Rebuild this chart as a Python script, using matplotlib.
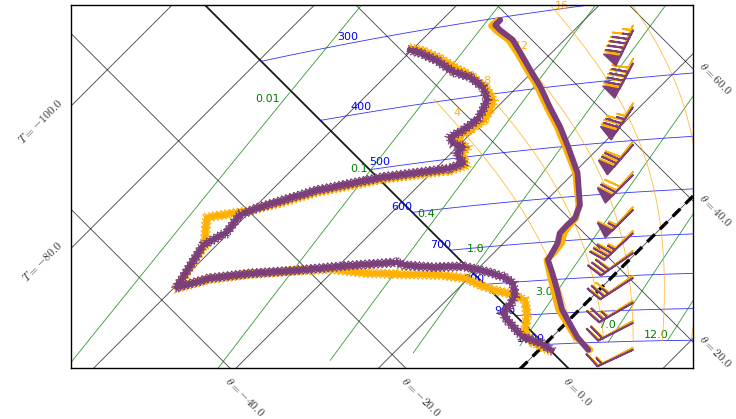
import numpy as np
import matplotlib
matplotlib.use("Agg")
import matplotlib.pyplot as plt
import matplotlib.patheffects as pe

KELVIN = 273.15
KAPPA = 0.286
ENTROPY_SCALE = 300.0
RV = 461.0
LV = 2.5e6

PURPLE = "#7b3f7b"
ORANGE = "#ffb000"

# ---------------------------------------------------------------
# Sounding data (pressure hPa, temperature / dew point degC)
# ---------------------------------------------------------------
purple_temp_p = [1025, 979, 890, 830, 781, 746, 729, 705, 681, 663, 648, 620,
                 552, 502, 465, 431, 398, 372, 347, 329, 315, 308, 303]
purple_temp_t = [6.9, 3.5, -2.4, -5.9, -9.0, -11.4, -11.8, -12.4, -13.5, -13.6,
                 -13.5, -14.6, -19.5, -24.4, -28.4, -32.6, -36.8, -40.6, -44.4,
                 -47.3, -50.4, -51.8, -51.8]

orange_temp_p = purple_temp_p
orange_temp_t = [7.2, 3.2, -2.9, -6.4, -9.4, -11.6, -11.5, -11.8, -12.9, -13.2,
                 -13.3, -14.8, -19.8, -24.8, -28.8, -33.0, -37.2, -41.0, -44.8,
                 -47.8, -50.9, -52.3, -52.2]

purple_dew_p = [1021, 994, 971, 940, 912, 889, 866, 837, 802, 785, 768, 753,
                745, 740, 728, 717, 711, 705, 696, 692, 702, 643, 605, 584,
                551, 542, 536, 525, 518, 518, 511, 491, 481, 472, 461, 452,
                438, 423, 408, 388, 371, 360, 341, 328, 322]
purple_dew_t = [1.8, -0.8, -4.1, -6.5, -8.7, -10.3, -10.4, -11.1, -13.1, -15.0,
                -17.8, -20.8, -22.6, -26.5, -30.5, -32.3, -38.5, -45.8, -51.4,
                -56.3, -59.7, -61.0, -61.9, -60.4, -61.0, -59.6, -57.6, -53.7,
                -46.2, -38.1, -36.9, -39.2, -39.2, -41.2, -42.4, -41.6, -41.0,
                -41.6, -42.4, -44.8, -48.0, -51.1, -55.1, -58.4, -60.3]

orange_dew_p = [1020, 993, 955, 900, 854, 834, 819, 801, 778, 763, 750, 736,
                714, 706, 698, 695, 705, 635, 606, 543, 545, 539, 529, 522,
                522, 516, 492, 483, 473, 462, 453, 439, 424, 409, 390, 370,
                358, 339, 326, 320]
orange_dew_t = [1.3, -1.8, -4.5, -6.6, -9.0, -11.7, -14.6, -17.4, -20.5, -24.4,
                -30.2, -35.3, -40.7, -45.6, -51.3, -56.2, -59.6, -61.0, -61.7,
                -65.3, -60.5, -57.0, -53.4, -45.9, -37.8, -36.2, -38.5, -38.5,
                -40.2, -41.6, -40.6, -40.0, -40.6, -41.6, -44.2, -47.9, -50.7,
                -54.9, -58.3, -60.3]

# wind barbs (hPa, knots, direction wind blows from)
purple_wind_p = [336, 379, 444, 508, 565, 638, 692, 741, 807, 878, 940, 1029]
purple_wind_spd = [95, 90, 75, 70, 60, 55, 35, 30, 25, 25, 20, 15]
purple_wind_dir = [206, 208, 214, 221, 225, 225, 227, 235, 237, 240, 243, 245]

orange_wind_p = [330, 373, 438, 502, 559, 632, 686, 735, 801, 872, 934, 1022]
orange_wind_spd = [95, 90, 75, 70, 70, 55, 35, 30, 30, 25, 20, 15]
orange_wind_dir = [204, 206, 212, 218, 222, 223, 225, 232, 235, 238, 241, 243]

# ---------------------------------------------------------------
# Background isopleths
# ---------------------------------------------------------------
isotherms = [-100, -80, -60, -40, -20, 0, 20, 40]
isentropes = [-60, -40, -20, 0, 20, 40, 60, 80]
isobars = [300, 400, 500, 600, 700, 800, 900, 1000]
isobar_label_t = [-68.7, -57.0, -46.6, -37.2, -26.4, -16.9, -8.1, 0.0]
mixing_ratios = [0.01, 0.1, 0.4, 1.0, 3.0, 7.0, 12.0]
mixing_label_p = [364, 508, 620, 717, 850, 961, 997]
wet_bulb_thetas = [4, 8, 12, 16, 20]

X_LIM = (1550.0, 1724.7)
Y_LIM = (1676.4, 1778.4)


def to_xy(temp, theta):
    temp = np.asarray(temp, dtype=float)
    s = ENTROPY_SCALE * np.log(np.asarray(theta, dtype=float) + KELVIN)
    return temp + s, s - temp


def theta_of(p, temp):
    p = np.asarray(p, dtype=float)
    return (np.asarray(temp, dtype=float) + KELVIN) * (1000.0 / p) ** KAPPA - KELVIN


def pt_xy(p, temp):
    return to_xy(temp, theta_of(p, temp))


def sat_vp(t):
    return 6.112 * np.exp(17.67 * t / (t + 243.5))


def dew_point(w, p):
    # Clausius-Clapeyron with constant latent heat
    e = np.asarray(p, dtype=float) * 1.6 * (w / 1000.0)
    inv_t = 1.0 / KELVIN - (RV / LV) * np.log(e / 6.11)
    return 1.0 / inv_t - KELVIN


def moist_adiabat(t_start, t_stop=-50.0):
    rd, cp, eps = 287.0, 1010.0, 0.622

    def slope(p, t):
        tk = t + KELVIN
        rs = 6.11 * np.exp((LV / RV) * (1.0 / KELVIN - 1.0 / tk)) * eps / p
        lr = LV * rs / (rd * tk)
        num = rd * tk / (cp * p) * (1.0 + lr)
        den = 1.0 + lr * eps * LV / (cp * tk)
        return num / den

    ps, ts = [1000.0], [float(t_start)]
    dp = -1.0
    while ts[-1] > t_stop and ps[-1] > 120:
        p, t = ps[-1], ts[-1]
        k1 = slope(p, t)
        k2 = slope(p + dp, t + dp * k1)
        ps.append(p + dp)
        ts.append(t + 0.5 * dp * (k1 + k2))
    return np.array(ps), np.array(ts)


def gutter_xy(pressures, x_gutter):
    tgrid = np.linspace(-120, 60, 3601)
    temps = []
    for p in pressures:
        xg, _ = pt_xy(p, tgrid)
        temps.append(np.interp(x_gutter, xg, tgrid))
    return pt_xy(pressures, temps)


def x_marks(color):
    # four half-ticks per station give an "x" texture along the trace
    return [pe.withTickedStroke(angle=a, spacing=3.0, length=1.4,
                                linewidth=0.9, foreground=color)
            for a in (45, 135, -45, -135)] + [pe.Normal()]


plt.rcParams["mathtext.fontset"] = "cm"

fig = plt.figure(figsize=(7.36, 4.19), dpi=100)
ax = fig.add_axes([71 / 736, 51 / 419, 622 / 736, 363 / 419])
ax.set_xlim(*X_LIM)
ax.set_ylim(*Y_LIM)
ax.set_xticks([])
ax.set_yticks([])
for sp in ax.spines.values():
    sp.set_linewidth(1.0)

x0, x1 = X_LIM
y0, y1 = Y_LIM

# isotherms, with the freezing line picked out in heavy dashes
theta_span = np.array([-150.0, 250.0])
for t in isotherms:
    x, y = to_xy([t, t], theta_span)
    ax.plot(x, y, color="k", lw=0.6, alpha=0.75, zorder=1)
    if t == 0:
        ax.plot(x, y, color="k", lw=2.4, ls=(0, (3.2, 2.2)), zorder=2)

# dry adiabats
temp_span = np.array([-200.0, 150.0])
for th in isentropes:
    x, y = to_xy(temp_span, [th, th])
    ax.plot(x, y, color="k", lw=1.3 if th == 0 else 0.6,
            alpha=0.9 if th == 0 else 0.75, zorder=1)

# isobars
theta_range = np.linspace(0, 150, 200)
for p, tl in zip(isobars, isobar_label_t):
    temps = (theta_range + KELVIN) * (p / 1000.0) ** KAPPA - KELVIN
    x, y = pt_xy(p, temps)
    ax.plot(x, y, color="blue", lw=0.6, alpha=0.8, zorder=1)
    lx, ly = pt_xy(p, tl)
    ax.text(lx, ly, str(p), color="blue", fontsize=8, ha="right",
            va="bottom", zorder=1)

# saturation mixing ratio lines
p_levels = np.linspace(1000, 100, 300)
for w, pl in zip(mixing_ratios, mixing_label_p):
    x, y = pt_xy(p_levels, dew_point(w, p_levels))
    ax.plot(x, y, color="green", lw=0.6, alpha=0.8, zorder=1)
    lx, ly = pt_xy(pl, dew_point(w, pl))
    ax.text(lx, ly, f"{w:g}" if w < 1 else f"{w:.1f}", color="green",
            fontsize=8, ha="right", va="bottom", zorder=1)

# saturated adiabats
for tw in wet_bulb_thetas:
    ps, ts = moist_adiabat(tw)
    x, y = pt_xy(ps, ts)
    ax.plot(x, y, color="orange", lw=0.6, alpha=0.75, zorder=1)
    i = np.argmin(np.abs(ts + 45.0))
    lx, ly = pt_xy(ps[i], ts[i])
    ax.annotate(str(tw), (lx, ly), xytext=(4, 4), textcoords="offset points",
                color="orange", fontsize=8, ha="center", va="center",
                alpha=0.9, zorder=1)

# sounding traces
for color, tp, tt, dp, dt, z in [
        (ORANGE, orange_temp_p, orange_temp_t, orange_dew_p, orange_dew_t, 3),
        (PURPLE, purple_temp_p, purple_temp_t, purple_dew_p, purple_dew_t, 4)]:
    x, y = pt_xy(tp, tt)
    ax.plot(x, y, color=color, lw=4.2, solid_capstyle="round",
            solid_joinstyle="round", zorder=z)
    x, y = pt_xy(dp, dt)
    ax.plot(x, y, color=color, lw=3.3, zorder=z, solid_joinstyle="round",
            path_effects=x_marks(color))

# wind barbs down the right-hand gutter
x_gutter = x0 + 0.9035 * (x1 - x0)
for color, wp, ws, wd, z in [
        (ORANGE, orange_wind_p, orange_wind_spd, orange_wind_dir, 5),
        (PURPLE, purple_wind_p, purple_wind_spd, purple_wind_dir, 6)]:
    bx, by = gutter_xy(np.array(wp, dtype=float), x_gutter)
    rad = np.deg2rad(wd)
    u = -np.array(ws) * np.sin(rad)
    v = -np.array(ws) * np.cos(rad)
    ax.barbs(bx, by, u, v, color=color, length=7.5, linewidth=1.3, zorder=z)

# frame annotations for the isotherms and dry adiabats
for t in (-100, -80):
    s = x0 - t
    ax.text(x0 - 1.5, s - t, rf"$T={t:.1f}$", rotation=45,
            rotation_mode="anchor", ha="right", va="bottom", fontsize=8.5,
            color="#333333")
for th in (-40, -20, 0):
    s = ENTROPY_SCALE * np.log(th + KELVIN)
    ax.text(2 * s - y0 + 0.5, y0 - 1.8, rf"$\theta={th:.1f}$", rotation=-45,
            rotation_mode="anchor", ha="left", va="top", fontsize=8.5,
            color="#333333")
for th in (20, 40, 60):
    s = ENTROPY_SCALE * np.log(th + KELVIN)
    ax.text(x1 + 1.0, 2 * s - x1, rf"$\theta={th:.1f}$", rotation=-45,
            rotation_mode="anchor", ha="left", va="bottom", fontsize=8.5,
            color="#333333", clip_on=False)

fig.savefig("out.png", dpi=100)
